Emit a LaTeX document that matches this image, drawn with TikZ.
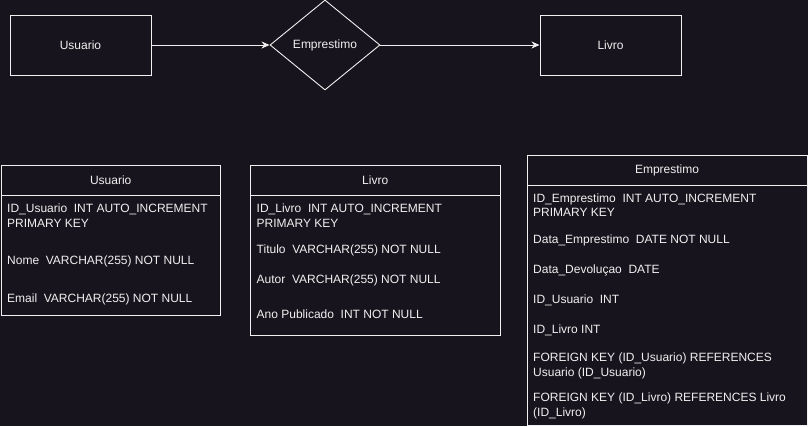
\documentclass[tikz,border=0pt]{standalone}
\usepackage{fontspec}
\setmainfont{Liberation Sans}
\usetikzlibrary{shapes.geometric,arrows.meta,positioning}
\definecolor{canvasdark}{HTML}{18141D}
\definecolor{inkwhite}{HTML}{F0F0F0}
\begin{document}
\begin{tikzpicture}[x=1pt,y=-1pt,
        >={Stealth[length=8pt,width=7pt,inset=2.5pt]},
        ent/.style={rectangle,draw=inkwhite,line width=1pt,
                    minimum width=141pt,minimum height=60pt,inner sep=0pt,
                    text=inkwhite,font=\fontsize{12}{14.4}\selectfont},
        rel/.style={diamond,draw=inkwhite,line width=0.9pt,aspect=1.22,
                    minimum width=110pt,minimum height=90pt,inner sep=0pt,
                    text=inkwhite,font=\fontsize{12}{14.4}\selectfont},
        tblhead/.style={rectangle,draw=inkwhite,line width=1pt,outer sep=0pt,
                    minimum height=30pt,inner sep=0pt,
                    text=inkwhite,font=\fontsize{12}{14.4}\selectfont},
        tblbody/.style={rectangle,draw=inkwhite,line width=1pt,outer sep=0pt,
                    inner sep=0pt},
        field/.style={anchor=base west,inner sep=0pt,align=left,
                    text=inkwhite,font=\fontsize{12}{14.4}\selectfont}]
      \useasboundingbox[fill=canvasdark] (0,0) rectangle (808,426);
      %% ── ER overview (top row) ────────────────────────────
      \node[ent] (usr) at (80.5,45)  {Usuario};
      \node[rel] (emp) at (325,45)   {Emprestimo};
      \node[ent] (liv) at (610.5,45) {Livro};
      \draw[->,draw=inkwhite,line width=1pt] (usr.east)--(emp.west);
      \draw[->,draw=inkwhite,line width=1pt] (emp.east)--(liv.west);
      %% ── Table: Usuario ───────────────────────────────────
      %% (two-line fields: placed by the baseline of their last line)
      \node[tblhead,minimum width=219.5pt] (tusr) at (110.75,180) {Usuario};
      \node[tblbody,minimum width=219.5pt,minimum height=120pt,below=0pt of tusr] (tusrbody) {};
      \node[field] (uid)   at (7,227)   {ID\_Usuario\ \ INT AUTO\_INCREMENT\\PRIMARY KEY};
      \node[field] (unome) at (7,264.5) {Nome\ \ VARCHAR(255) NOT NULL};
      \node[field] (umail) at (7,302.5) {Email\ \ VARCHAR(255) NOT NULL};
      %% ── Table: Livro ─────────────────────────────────────
      \node[tblhead,minimum width=250.5pt] (tliv) at (375.25,180) {Livro};
      \node[tblbody,minimum width=250.5pt,minimum height=140pt,below=0pt of tliv] (tlivbody) {};
      \node[field] (lid)    at (256.5,227)   {ID\_Livro\ \ INT AUTO\_INCREMENT\\PRIMARY KEY};
      \node[field] (ltit)   at (256.5,253.5) {Titulo\ \ VARCHAR(255) NOT NULL};
      \node[field] (laut)   at (256.5,283.5) {Autor\ \ VARCHAR(255) NOT NULL};
      \node[field] (lano)   at (256.5,318.5) {Ano Publicado\ \ INT NOT NULL};
      %% ── Table: Emprestimo ────────────────────────────────
      \node[tblhead,minimum width=280pt] (temp) at (667,170) {Emprestimo};
      \node[tblbody,minimum width=280pt,minimum height=240pt,below=0pt of temp] (tempbody) {};
      \node[field] (eid)   at (533,216.5) {ID\_Emprestimo\ \ INT AUTO\_INCREMENT\\PRIMARY KEY};
      \node[field] (edemp) at (533,243.5) {Data\_Emprestimo\ \ DATE NOT NULL};
      \node[field] (eddev) at (533,273.5) {Data\_Devoluçao\ \ DATE};
      \node[field] (eusr)  at (533,303.5) {ID\_Usuario\ \ INT};
      \node[field] (eliv)  at (533,333.5) {ID\_Livro INT};
      \node[field] (efku)  at (533,376)   {FOREIGN KEY (ID\_Usuario) REFERENCES\\Usuario (ID\_Usuario)};
      \node[field] (efkl)  at (533,416)   {FOREIGN KEY (ID\_Livro) REFERENCES Livro\\(ID\_Livro)};
    \end{tikzpicture}
\end{document}
